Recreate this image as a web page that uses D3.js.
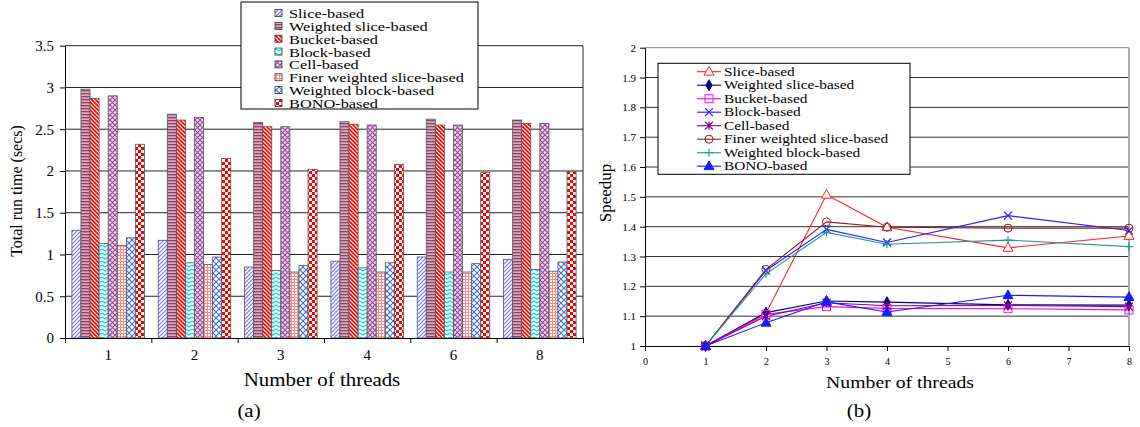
<!DOCTYPE html>
<head>
  <meta charset="utf-8">
  <script src="https://d3js.org/d3.v7.min.js"></script>
  <style>
    body { margin:0; background:#fff; }
    text { font-family: "Liberation Serif", "Times New Roman", serif; fill:#000; }
  </style>
</head>
<body>
<svg width="1140" height="427" id="vis"></svg>
<script>
// ---- data ----
var threads = ["1", "2", "3", "4", "6", "8"];
var threadCounts = [1, 2, 3, 4, 6, 8];
var seriesNames = ["Slice-based", "Weighted slice-based", "Bucket-based", "Block-based",
  "Cell-based", "Finer weighted slice-based", "Weighted block-based", "BONO-based"];

// total run time (secs), one array per method, in thread order
var sliceTime         = [1.29, 1.17, 0.85, 0.92, 0.97, 0.94];
var weightedSliceTime = [2.98, 2.68, 2.58, 2.59, 2.62, 2.61];
var bucketTime        = [2.87, 2.61, 2.53, 2.56, 2.55, 2.57];
var blockTime         = [1.13, 0.90, 0.81, 0.84, 0.79, 0.82];
var cellTime          = [2.90, 2.64, 2.53, 2.55, 2.55, 2.57];
var finerTime         = [1.11, 0.88, 0.79, 0.79, 0.79, 0.80];
var weightedBlockTime = [1.20, 0.97, 0.87, 0.90, 0.89, 0.91];
var bonoTime          = [2.32, 2.15, 2.02, 2.08, 1.98, 1.99];

// speedup
var sliceSpeedup         = [1, 1.11, 1.507, 1.398, 1.329, 1.369];
var weightedSliceSpeedup = [1, 1.112, 1.151, 1.147, 1.138, 1.137];
var bucketSpeedup        = [1, 1.106, 1.132, 1.126, 1.125, 1.121];
var blockSpeedup         = [1, 1.253, 1.391, 1.347, 1.437, 1.387];
var cellSpeedup          = [1, 1.100, 1.145, 1.135, 1.136, 1.132];
var finerSpeedup         = [1, 1.257, 1.416, 1.398, 1.395, 1.395];
var weightedBlockSpeedup = [1, 1.242, 1.381, 1.341, 1.355, 1.333];
var bonoSpeedup          = [1, 1.078, 1.148, 1.114, 1.170, 1.164];

var yTicksLeft = [0, 0.5, 1, 1.5, 2, 2.5, 3, 3.5];
var yTicksRight = [1, 1.1, 1.2, 1.3, 1.4, 1.5, 1.6, 1.7, 1.8, 1.9, 2];
var xTicksRight = [0, 1, 2, 3, 4, 5, 6, 7, 8];

var timeSeries = [sliceTime, weightedSliceTime, bucketTime, blockTime, cellTime, finerTime, weightedBlockTime, bonoTime];
var speedSeries = [sliceSpeedup, weightedSliceSpeedup, bucketSpeedup, blockSpeedup, cellSpeedup, finerSpeedup, weightedBlockSpeedup, bonoSpeedup];

var svg = d3.select("#vis");
var defs = svg.append("defs");

// the source figure's text is a bit wider than plain Times, stretch it
function wideText(g, x, y, str, size, anchor, sx) {
  return g.append("text")
    .attr("transform", "translate(" + x + "," + y + ") scale(" + (sx || 1.16) + ",1)")
    .attr("text-anchor", anchor || "start")
    .style("font-size", size + "px").text(str);
}

// ---- fill patterns for the bars ----
function pat(id, w, h, bg) {
  var p = defs.append("pattern").attr("id", id).attr("patternUnits", "userSpaceOnUse")
    .attr("width", w).attr("height", h);
  p.append("rect").attr("width", w).attr("height", h).attr("fill", bg);
  return p;
}
var p;
p = pat("p0", 4, 4, "#fff");
p.append("path").attr("d", "M-1,1 l2,-2 M0,4 l4,-4 M3,5 l2,-2").attr("stroke", "#7777ff").attr("stroke-width", 1.2);
p = pat("p1", 3, 3, "#d9a9bd");
p.append("rect").attr("y", 0).attr("width", 3).attr("height", 1.3).attr("fill", "#8c4468");
p = pat("p2", 4, 4, "#fff");
p.append("path").attr("d", "M-1,3 l2,2 M0,0 l4,4 M3,-1 l2,2").attr("stroke", "#ff0000").attr("stroke-width", 1.6);
p = pat("p3", 6, 4, "#fff");
p.append("path").attr("d", "M0,1 L3,3 L6,1").attr("fill", "none").attr("stroke", "#00dddd").attr("stroke-width", 1.4);
p = pat("p4", 5, 5, "#f2dcf2");
p.append("path").attr("d", "M0,0 L5,5 M5,0 L0,5").attr("stroke", "#994499").attr("stroke-width", 1.1);
p = pat("p5", 3, 3, "#fff");
p.append("path").attr("d", "M0,0.5 H3 M0.5,0 V3").attr("stroke", "#ff8a8a").attr("stroke-width", 1);
p = pat("p6", 6, 6, "#fff");
p.append("path").attr("d", "M0,0 L6,6 M6,0 L0,6").attr("stroke", "#3a6fd8").attr("stroke-width", 1.1);
p = pat("p7", 6, 6, "#fff");
p.append("rect").attr("width", 3).attr("height", 3).attr("fill", "#ff0000");
p.append("rect").attr("x", 3).attr("y", 3).attr("width", 3).attr("height", 3).attr("fill", "#ff0000");

// ================= (a) run time bar chart =================
var aLeft = 65, aRight = 583, aTop = 45.7, aBottom = 338;
var yA = d3.scaleLinear().domain([0, 3.5]).range([aBottom, aTop]);
var xA = d3.scaleBand().domain(threads).range([aLeft, aRight]).paddingInner(0.16).paddingOuter(0.08);
var xInner = d3.scaleBand().domain(d3.range(seriesNames.length)).range([0, xA.bandwidth()]);
var xEdge = d3.scaleLinear().domain([0, threads.length]).range([aLeft, aRight]);

var gA = svg.append("g");
// gridlines
gA.selectAll(".grid").data(yTicksLeft.slice(1)).enter().append("line")
  .attr("x1", aLeft).attr("x2", aRight)
  .attr("y1", function(d) { return yA(d); }).attr("y2", function(d) { return yA(d); })
  .attr("stroke", "#222").attr("stroke-width", 1);
gA.append("line").attr("x1", aRight).attr("x2", aRight).attr("y1", aTop).attr("y2", aBottom)
  .attr("stroke", "#222");

// bars
threads.forEach(function(t, i) {
  gA.selectAll(".bar" + i).data(timeSeries.map(function(s) { return s[i]; })).enter().append("rect")
    .attr("x", function(d, j) { return xA(t) + xInner(j); })
    .attr("width", xInner.bandwidth())
    .attr("y", function(d) { return yA(d); })
    .attr("height", function(d) { return aBottom - yA(d); })
    .attr("fill", function(d, j) { return "url(#p" + j + ")"; })
    .attr("stroke", "#555").attr("stroke-width", 0.8);
});

// axes
gA.append("g").attr("transform", "translate(" + aLeft + ",0)")
  .call(d3.axisLeft(yA).tickValues(yTicksLeft).tickSize(5).tickSizeOuter(0).tickFormat(function(d) { return d; }))
  .call(function(g) {
    g.select(".domain").attr("stroke", "#000");
    g.selectAll("text").style("font-family", "Liberation Serif").style("font-size", "15px").attr("x", -11);
  });
gA.append("g").attr("transform", "translate(0," + aBottom + ")")
  .call(d3.axisBottom(xEdge).tickValues(d3.range(threads.length + 1)).tickSize(5).tickSizeOuter(0).tickFormat(""))
  .call(function(g) { g.select(".domain").attr("stroke", "#000"); });
gA.append("g").attr("transform", "translate(0," + aBottom + ")")
  .call(d3.axisBottom(xA).tickSize(0).tickPadding(11))
  .call(function(g) {
    g.select(".domain").remove();
    g.selectAll("text").style("font-family", "Liberation Serif").style("font-size", "15px");
  });

gA.append("text").attr("transform", "translate(22,191) rotate(-90)").attr("text-anchor", "middle")
  .style("font-size", "16px").text("Total run time (secs)");
wideText(gA, 322, 386, "Number of threads", 18, "middle");
wideText(gA, 249, 417, "(a)", 18, "middle");

// legend (a)
var legA = gA.append("g");
legA.append("rect").attr("x", 241).attr("y", 2).attr("width", 237).attr("height", 107)
  .attr("fill", "#fff").attr("stroke", "#000");
seriesNames.forEach(function(n, j) {
  var y = 13.5 + j * 12.85;
  legA.append("rect").attr("x", 275).attr("y", y - 4).attr("width", 7).attr("height", 7)
    .attr("fill", "url(#p" + j + ")").attr("stroke", "#333").attr("stroke-width", 0.8);
  wideText(legA, 289, y + 4.5, n, 13.5, "start", 1.21);
});

// ================= (b) speedup line chart =================
var bLeft = 645, bRight = 1129, bTop = 47.7, bBottom = 346;
var xB = d3.scaleLinear().domain([0, 8]).range([bLeft, bRight]);
var yB = d3.scaleLinear().domain([1, 2]).range([bBottom, bTop]);
var gB = svg.append("g");

gB.selectAll(".gridB").data(yTicksRight.slice(1, -1)).enter().append("line")
  .attr("x1", bLeft).attr("x2", bRight)
  .attr("y1", function(d) { return yB(d); }).attr("y2", function(d) { return yB(d); })
  .attr("stroke", "#333").attr("stroke-width", 1);
gB.append("line").attr("x1", bLeft).attr("x2", bRight).attr("y1", bTop).attr("y2", bTop).attr("stroke", "#999").attr("stroke-width", 1.2);
gB.append("line").attr("x1", bRight).attr("x2", bRight).attr("y1", bTop).attr("y2", bBottom).attr("stroke", "#aaa").attr("stroke-width", 2);

gB.append("g").attr("transform", "translate(" + bLeft + ",0)")
  .call(d3.axisLeft(yB).tickValues(yTicksRight).tickSize(5).tickSizeOuter(0).tickFormat(function(d) { return d; }))
  .call(function(g) {
    g.select(".domain").attr("stroke", "#000");
    g.selectAll("text").style("font-family", "Liberation Serif").style("font-size", "11px").attr("x", -9);
  });
gB.append("g").attr("transform", "translate(0," + bBottom + ")")
  .call(d3.axisBottom(xB).tickValues(xTicksRight).tickSize(5).tickSizeOuter(0).tickPadding(7).tickFormat(function(d) { return d; }))
  .call(function(g) {
    g.select(".domain").attr("stroke", "#000");
    g.selectAll("text").style("font-family", "Liberation Serif").style("font-size", "10px");
  });

gB.append("text").attr("transform", "translate(611,193) rotate(-90)").attr("text-anchor", "middle")
  .style("font-size", "17px").text("Speedup");
wideText(gB, 900, 388, "Number of threads", 17, "middle");
wideText(gB, 859, 417, "(b)", 18, "middle");

var lineColors = ["#ff2020", "#000080", "#ff00ff", "#2020ff", "#800080", "#8b2020", "#229999", "#1a1aff"];
var markerTypes = ["triOpen", "diamond", "square", "x", "star", "circle", "plus", "triFilled"];

function drawMarker(g, type, x, y, c) {
  var s = 4;
  if (type === "triOpen" || type === "triFilled") {
    g.append("path").attr("d", d3.symbol(d3.symbolTriangle, 44)()).attr("transform", "translate(" + x + "," + (y + 0.5) + ")")
      .attr("fill", type === "triFilled" ? c : "#fff").attr("stroke", c).attr("stroke-width", 1);
  } else if (type === "diamond") {
    g.append("path").attr("d", d3.symbol(d3.symbolDiamond, 34)()).attr("transform", "translate(" + x + "," + y + ")")
      .attr("fill", c).attr("stroke", c);
  } else if (type === "square") {
    g.append("rect").attr("x", x - s).attr("y", y - s).attr("width", 2 * s).attr("height", 2 * s)
      .attr("fill", "none").attr("stroke", c).attr("stroke-width", 1);
  } else if (type === "circle") {
    g.append("circle").attr("cx", x).attr("cy", y).attr("r", s).attr("fill", "none").attr("stroke", c).attr("stroke-width", 1);
  } else if (type === "x") {
    g.append("path").attr("d", "M" + (x - s) + "," + (y - s) + "L" + (x + s) + "," + (y + s) + "M" + (x + s) + "," + (y - s) + "L" + (x - s) + "," + (y + s))
      .attr("stroke", c).attr("stroke-width", 1.2);
  } else if (type === "plus") {
    g.append("path").attr("d", "M" + (x - s) + "," + y + "H" + (x + s) + "M" + x + "," + (y - s) + "V" + (y + s))
      .attr("stroke", c).attr("stroke-width", 1.2);
  } else if (type === "star") {
    g.append("path").attr("d", "M" + (x - s) + "," + (y - s) + "L" + (x + s) + "," + (y + s) + "M" + (x + s) + "," + (y - s) + "L" + (x - s) + "," + (y + s) + "M" + x + "," + (y - s) + "V" + (y + s))
      .attr("stroke", c).attr("stroke-width", 1.2);
  }
}

var line = d3.line().x(function(d, i) { return xB(threadCounts[i]); }).y(function(d) { return yB(d); });
speedSeries.forEach(function(s, j) {
  gB.append("path").datum(s).attr("d", line).attr("fill", "none")
    .attr("stroke", lineColors[j]).attr("stroke-width", 1.1);
});
speedSeries.forEach(function(s, j) {
  s.forEach(function(v, i) { drawMarker(gB, markerTypes[j], xB(threadCounts[i]), yB(v), lineColors[j]); });
});

// legend (b)
var legB = gB.append("g");
legB.append("rect").attr("x", 658).attr("y", 63.3).attr("width", 252).attr("height", 111)
  .attr("fill", "#fff").attr("stroke", "#000");
seriesNames.forEach(function(n, j) {
  var y = 71.7 + j * 13.5;
  legB.append("line").attr("x1", 697).attr("x2", 721).attr("y1", y).attr("y2", y)
    .attr("stroke", lineColors[j]).attr("stroke-width", 1.1);
  drawMarker(legB, markerTypes[j], 709, y, lineColors[j]);
  wideText(legB, 724, y + 4, n, 13, "start", 1.18);
});
</script>
</body>
